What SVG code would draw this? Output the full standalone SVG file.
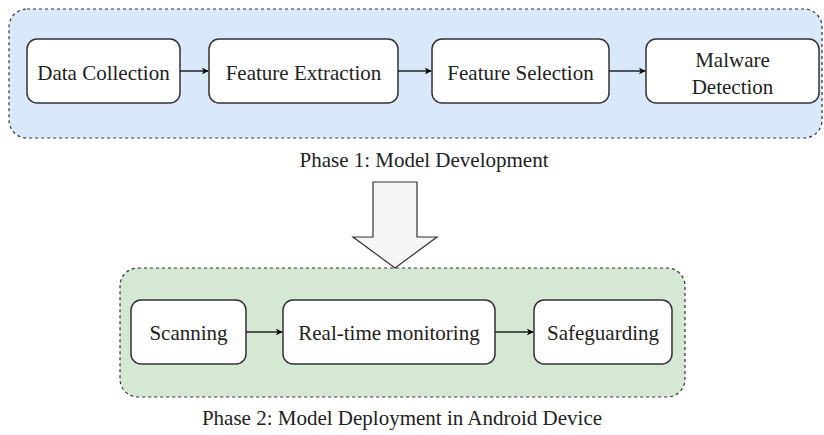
<svg xmlns="http://www.w3.org/2000/svg" width="824" height="435" viewBox="0 0 824 435">
<defs>
<marker id="ah" viewBox="0 0 10 10" refX="9" refY="5" markerWidth="7" markerHeight="7" markerUnits="userSpaceOnUse" orient="auto">
<path d="M0,0 L10,5 L0,10 L3,5 Z" fill="#000"/>
</marker>
<style>
.cont{stroke:#333;stroke-width:1.2;stroke-dasharray:3 3}
.node{fill:#fff;stroke:#333;stroke-width:1.5}
.conn{stroke:#222;stroke-width:1.5;fill:none;marker-end:url(#ah)}
</style>
</defs>
<rect width="824" height="435" fill="#fff"/>
<g id="phase1">
<rect class="cont" x="9" y="9" width="813" height="129" rx="18" fill="#dae8fc"/>
<text x="424" y="167" text-anchor="middle" fill="#222" style="font-family:'Liberation Serif',serif;font-size:21px">Phase 1: Model Development</text>
</g>
<g id="phase2">
<rect class="cont" x="120" y="268" width="565" height="129" rx="18" fill="#d5e8d4"/>
<text x="402" y="425" text-anchor="middle" fill="#222" style="font-family:'Liberation Serif',serif;font-size:21px">Phase 2: Model Deployment in Android Device</text>
</g>
<g id="bigarrow">
<path d="M373,182 L417,182 L417,237 L437,237 L395,268 L353,237 L373,237 Z" fill="#f5f5f5" stroke="#333" stroke-width="1.2"/>
</g>
<g id="data-collection">
<rect class="node" x="27" y="39" width="153" height="64" rx="10"/>
<text x="103.5" y="80" text-anchor="middle" fill="#222" style="font-family:'Liberation Serif',serif;font-size:21px">Data Collection</text>
</g>
<g id="feature-extraction">
<rect class="node" x="209" y="39" width="189" height="64" rx="10"/>
<text x="303.5" y="80" text-anchor="middle" fill="#222" style="font-family:'Liberation Serif',serif;font-size:21px">Feature Extraction</text>
</g>
<g id="feature-selection">
<rect class="node" x="432" y="39" width="177" height="64" rx="10"/>
<text x="520.5" y="80" text-anchor="middle" fill="#222" style="font-family:'Liberation Serif',serif;font-size:21px">Feature Selection</text>
</g>
<g id="malware-detection">
<rect class="node" x="646" y="39" width="173" height="64" rx="10"/>
<text x="732.5" y="67" text-anchor="middle" fill="#222" style="font-family:'Liberation Serif',serif;font-size:21px">Malware</text>
<text x="732.5" y="94" text-anchor="middle" fill="#222" style="font-family:'Liberation Serif',serif;font-size:21px">Detection</text>
</g>
<g id="scanning">
<rect class="node" x="131" y="300" width="115" height="64" rx="10"/>
<text x="188.5" y="340" text-anchor="middle" fill="#222" style="font-family:'Liberation Serif',serif;font-size:21px">Scanning</text>
</g>
<g id="real-time-monitoring">
<rect class="node" x="283" y="300" width="212" height="64" rx="10"/>
<text x="389" y="340" text-anchor="middle" fill="#222" style="font-family:'Liberation Serif',serif;font-size:21px">Real-time monitoring</text>
</g>
<g id="safeguarding">
<rect class="node" x="534" y="300" width="138" height="64" rx="10"/>
<text x="603" y="340" text-anchor="middle" fill="#222" style="font-family:'Liberation Serif',serif;font-size:21px">Safeguarding</text>
</g>
<g id="connectors">
<line class="conn" x1="180" y1="71" x2="208" y2="71"/>
<line class="conn" x1="398" y1="71" x2="431" y2="71"/>
<line class="conn" x1="609" y1="71" x2="645" y2="71"/>
<line class="conn" x1="246" y1="332" x2="282" y2="332"/>
<line class="conn" x1="495" y1="332" x2="533" y2="332"/>
</g>
</svg>
